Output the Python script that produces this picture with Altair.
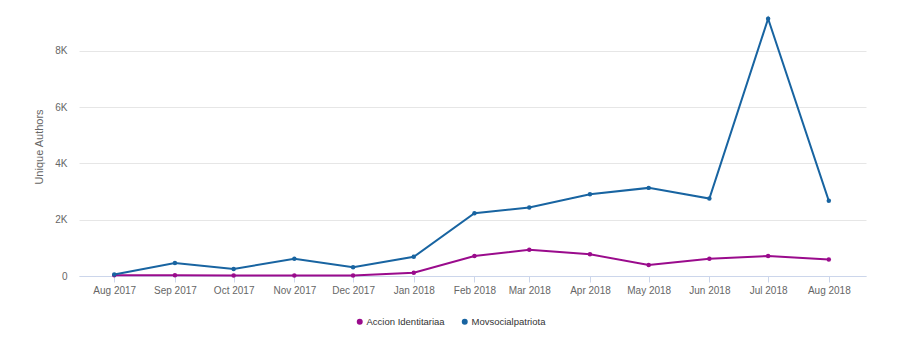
import altair as alt
import pandas as pd

months = ["2017-08-01", "2017-09-01", "2017-10-01", "2017-11-01", "2017-12-01", "2018-01-01",
          "2018-02-01", "2018-03-01", "2018-04-01", "2018-05-01", "2018-06-01", "2018-07-01", "2018-08-01"]
movsocialpatriota = [50, 460, 250, 615, 310, 680, 2230, 2430, 2900, 3130, 2750, 9140, 2670]
accion_identitariaa = [25, 25, 15, 15, 15, 115, 710, 935, 770, 390, 615, 710, 590]
series_names = ["Accion Identitariaa", "Movsocialpatriota"]
series_colors = ["#9a0b8c", "#1864a1"]

rows = []
for m, v in zip(months, accion_identitariaa):
    rows.append({"month": m, "value": v, "series": series_names[0]})
for m, v in zip(months, movsocialpatriota):
    rows.append({"month": m, "value": v, "series": series_names[1]})
df = pd.DataFrame(rows)

tick_values = [alt.DateTime(year=int(m[:4]), month=int(m[5:7]), date=1, utc=True) for m in months]

x = alt.X("month:T",
          scale=alt.Scale(type="utc",
                          domain=[alt.DateTime(year=2017, month=7, date=14, utc=True),
                                  alt.DateTime(year=2018, month=8, date=20, utc=True)]),
          axis=alt.Axis(values=tick_values, format="%b %Y", title=None, grid=False,
                        domainColor="#ccd6eb", tickColor="#ccd6eb", tickSize=6,
                        labelColor="#666666", labelFontSize=10, labelPadding=3,
                        labelFont="Liberation Sans"))
y = alt.Y("value:Q",
          scale=alt.Scale(domain=[0, 9200], nice=False),
          axis=alt.Axis(values=[0, 2000, 4000, 6000, 8000],
                        labelExpr="datum.value == 0 ? '0' : (datum.value / 1000) + 'K'",
                        title="Unique Authors", titleColor="#666666", titleFontSize=11,
                        titleFontWeight="normal", titleFont="Liberation Sans", titlePadding=10,
                        labelColor="#666666", labelFontSize=10, labelFont="Liberation Sans",
                        labelPadding=12, ticks=False, domain=False,
                        gridColor="#e6e6e6", gridWidth=1))
color = alt.Color("series:N",
                  scale=alt.Scale(domain=series_names, range=series_colors),
                  legend=alt.Legend(orient="none", direction="horizontal", legendX=276, legendY=300,
                                    title=None, symbolType="circle", symbolSize=20,
                                    labelFont="Liberation Sans", labelFontSize=9.5,
                                    labelColor="#333333", columnPadding=14, labelOffset=2))

base = alt.Chart(df).encode(x=x, y=y, color=color)
lines = base.mark_line(strokeWidth=2)
points = base.mark_point(filled=True, size=20, opacity=1)

chart = (lines + points).properties(
    width=787, height=259,
    background="white",
    autosize=alt.AutoSizeParams(type="none"),
    padding={"left": 79, "top": 17, "right": 37, "bottom": 76},
).configure_view(stroke=None)

chart.save("out.html", embed_options={"renderer": "svg", "actions": False})
